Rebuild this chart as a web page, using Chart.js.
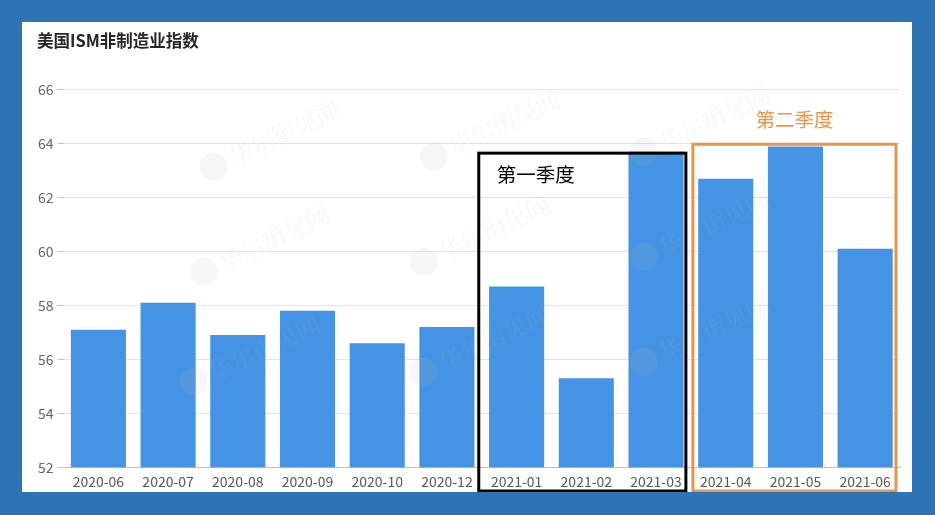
<!DOCTYPE html>
<html>
<head>
<meta charset="utf-8">
<script src="https://cdn.jsdelivr.net/npm/chart.js@4.4.0/dist/chart.umd.min.js"></script>
<style>
    html, body { margin: 0; padding: 0; }
    body { width: 935px; height: 515px; background: #2e74b5; position: relative; overflow: hidden; }
    #panel { position: absolute; left: 22px; top: 22px; width: 890px; height: 470px; background: #fff; }
</style>
</head>
<body>
<div id="panel"><canvas id="grafico" width="890" height="470"></canvas></div>
<script>
    // datos
    const meses = ['2020-06', '2020-07', '2020-08', '2020-09', '2020-10', '2020-12',
                   '2021-01', '2021-02', '2021-03', '2021-04', '2021-05', '2021-06'];
    const valores = [57.1, 58.1, 56.9, 57.8, 56.6, 57.2, 58.7, 55.3, 63.7, 62.7, 63.9, 60.1];
    const ticksY = [52, 54, 56, 58, 60, 62, 64, 66];
    const trimestres = [
        { nombre: '第一季度', desde: 6, hasta: 8, tope: 63.65 },
        { nombre: '第二季度', desde: 9, hasta: 11, tope: 63.98 }
    ];

    const FUENTE = '"Noto Sans CJK SC", "Noto Sans", sans-serif';

    // marca de agua + cajas de trimestre
    const extras = {
        id: 'extras',
        afterDatasetsDraw(chart) {
            const ctx = chart.ctx;
            const x = chart.scales.x, y = chart.scales.y;
            const paso = x.getPixelForValue(1) - x.getPixelForValue(0);

            // marcas de agua
            ctx.save();
            const marcas = [[230, 150], [450, 140], [660, 135], [220, 255], [440, 245], [660, 240], [210, 365], [440, 355], [660, 345]];
            marcas.forEach(([mx, my]) => {
                ctx.save();
                ctx.translate(mx - 22, my - 22);
                ctx.rotate(-0.45);
                ctx.fillStyle = 'rgba(190,190,190,0.12)';
                ctx.beginPath();
                ctx.arc(-22, 8, 14, 0, Math.PI * 2);
                ctx.fill();
                ctx.font = '24px "Noto Serif CJK SC", ' + FUENTE;
                ctx.textBaseline = 'middle';
                ctx.fillText('华尔街见闻', -4, 8);
                ctx.restore();
            });
            ctx.restore();

            // cajas
            const colores = ['#000000', '#e8954a'];
            const ajusteIzq = [-3, 2], ajusteDer = [-5, -4];
            const abajo = chart.height - 1;
            trimestres.forEach((t, i) => {
                const izq = x.getPixelForValue(t.desde) - paso / 2 + ajusteIzq[i];
                const der = x.getPixelForValue(t.hasta) + paso / 2 + ajusteDer[i];
                const arriba = y.getPixelForValue(t.tope);
                ctx.save();
                ctx.strokeStyle = colores[i];
                ctx.lineWidth = 3;
                ctx.strokeRect(izq, arriba, der - izq, abajo - arriba);
                ctx.font = '19.5px ' + FUENTE;
                ctx.textBaseline = 'middle';
                ctx.fillStyle = colores[i];
                if (i === 0) {
                    ctx.fillText(t.nombre, izq + 18, arriba + 21);
                } else {
                    ctx.textAlign = 'center';
                    ctx.fillText(t.nombre, (izq + der) / 2, arriba - 25);
                }
                ctx.restore();
            });
        }
    };

    const ctx = document.getElementById('grafico').getContext('2d');
    new Chart(ctx, {
        type: 'bar',
        data: {
            labels: meses,
            datasets: [{
                data: valores,
                backgroundColor: '#4493e4',
                borderWidth: 0,
                categoryPercentage: 0.79,
                barPercentage: 1
            }]
        },
        options: {
            responsive: false,
            animation: false,
            layout: { padding: { left: 15, right: 12, top: 0, bottom: -4 } },
            plugins: {
                legend: { display: false },
                tooltip: { enabled: false },
                title: {
                    display: true,
                    text: '美国ISM非制造业指数',
                    align: 'start',
                    color: '#262626',
                    font: { family: FUENTE, size: 16.5, weight: 'bold' },
                    padding: { top: 9, bottom: 39 }
                }
            },
            scales: {
                x: {
                    grid: { display: false, drawTicks: false },
                    border: { display: true, color: '#bfbfbf', width: 1 },
                    ticks: {
                        color: '#595959',
                        padding: 6,
                        maxRotation: 0,
                        autoSkip: false,
                        font: { family: FUENTE, size: 14 }
                    }
                },
                y: {
                    min: 52,
                    max: 66,
                    afterBuildTicks: scale => { scale.ticks = ticksY.map(v => ({ value: v })); },
                    afterFit: scale => { scale.width -= 3; },
                    grid: { color: '#e3e3e3', lineWidth: 1, tickLength: 6, tickColor: '#bfbfbf' },
                    border: { display: false },
                    ticks: {
                        color: '#666666',
                        padding: 4,
                        font: { family: FUENTE, size: 14 }
                    }
                }
            }
        },
        plugins: [extras]
    });
</script>
</body>
</html>
